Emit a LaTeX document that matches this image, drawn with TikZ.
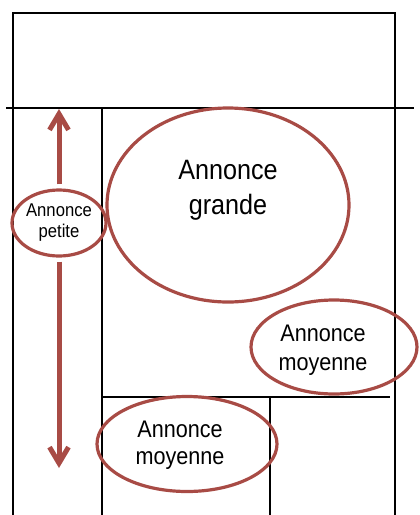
\documentclass[tikz,border=0pt]{standalone}
\usepackage{fontspec}
\setmainfont{Liberation Sans}[FakeStretch=0.9]
\usetikzlibrary{shapes.geometric,arrows.meta,positioning}
\definecolor{adred}{HTML}{A84B45}

\begin{document}
\begin{tikzpicture}[x=1pt,y=-1pt,
  cadre/.style={draw=black,line width=2.2pt},
  annonce/.style={ellipse,draw=adred,line width=3.2pt,inner sep=0pt,align=center},
  txt/.style={align=center,inner sep=0pt},
  fleche/.style={-{Straight Barb[length=16pt,width=19pt]},draw=adred,line width=5pt,shorten <=4pt}
]
\useasboundingbox (0,0) rectangle (420,515);
% page layout
\draw[cadre] (13,13) rectangle (395,108);
\draw[cadre] (6,108) -- (414,108);
\draw[cadre] (13,108) -- (13,515);
\draw[cadre] (395,108) -- (395,515);
\draw[cadre] (102,108) -- (102,515);
\draw[cadre] (102,397) -- (390,397);
\draw[cadre] (270,397) -- (270,515);

% ads
\node[annonce,minimum width=242pt,minimum height=194pt] (grande) at (228,205) {};
\node[txt,font=\fontsize{28}{35}\selectfont] (tgrande) at (228,190) {Annonce\\grande};
\node[annonce,minimum width=166pt,minimum height=94pt] (moy1) at (334,347) {};
\node[txt,font=\fontsize{24}{29}\selectfont] (tmoy1) at (323,350) {Annonce\\moyenne};
\node[annonce,minimum width=180pt,minimum height=95pt] (moy2) at (187,444) {};
\node[txt,font=\fontsize{24}{27}\selectfont] (tmoy2) at (180,445) {Annonce\\moyenne};
\node[annonce,minimum width=94pt,minimum height=66pt,font=\fontsize{18.5}{21}\selectfont]
  (petite) at (59,223) {Annonce\\petite};

\coordinate (haut) at (59,109);
\coordinate (bas) at (59,468);
\draw[fleche] (petite) -- (haut);
\draw[fleche] (petite) -- (bas);
\end{tikzpicture}
\end{document}
